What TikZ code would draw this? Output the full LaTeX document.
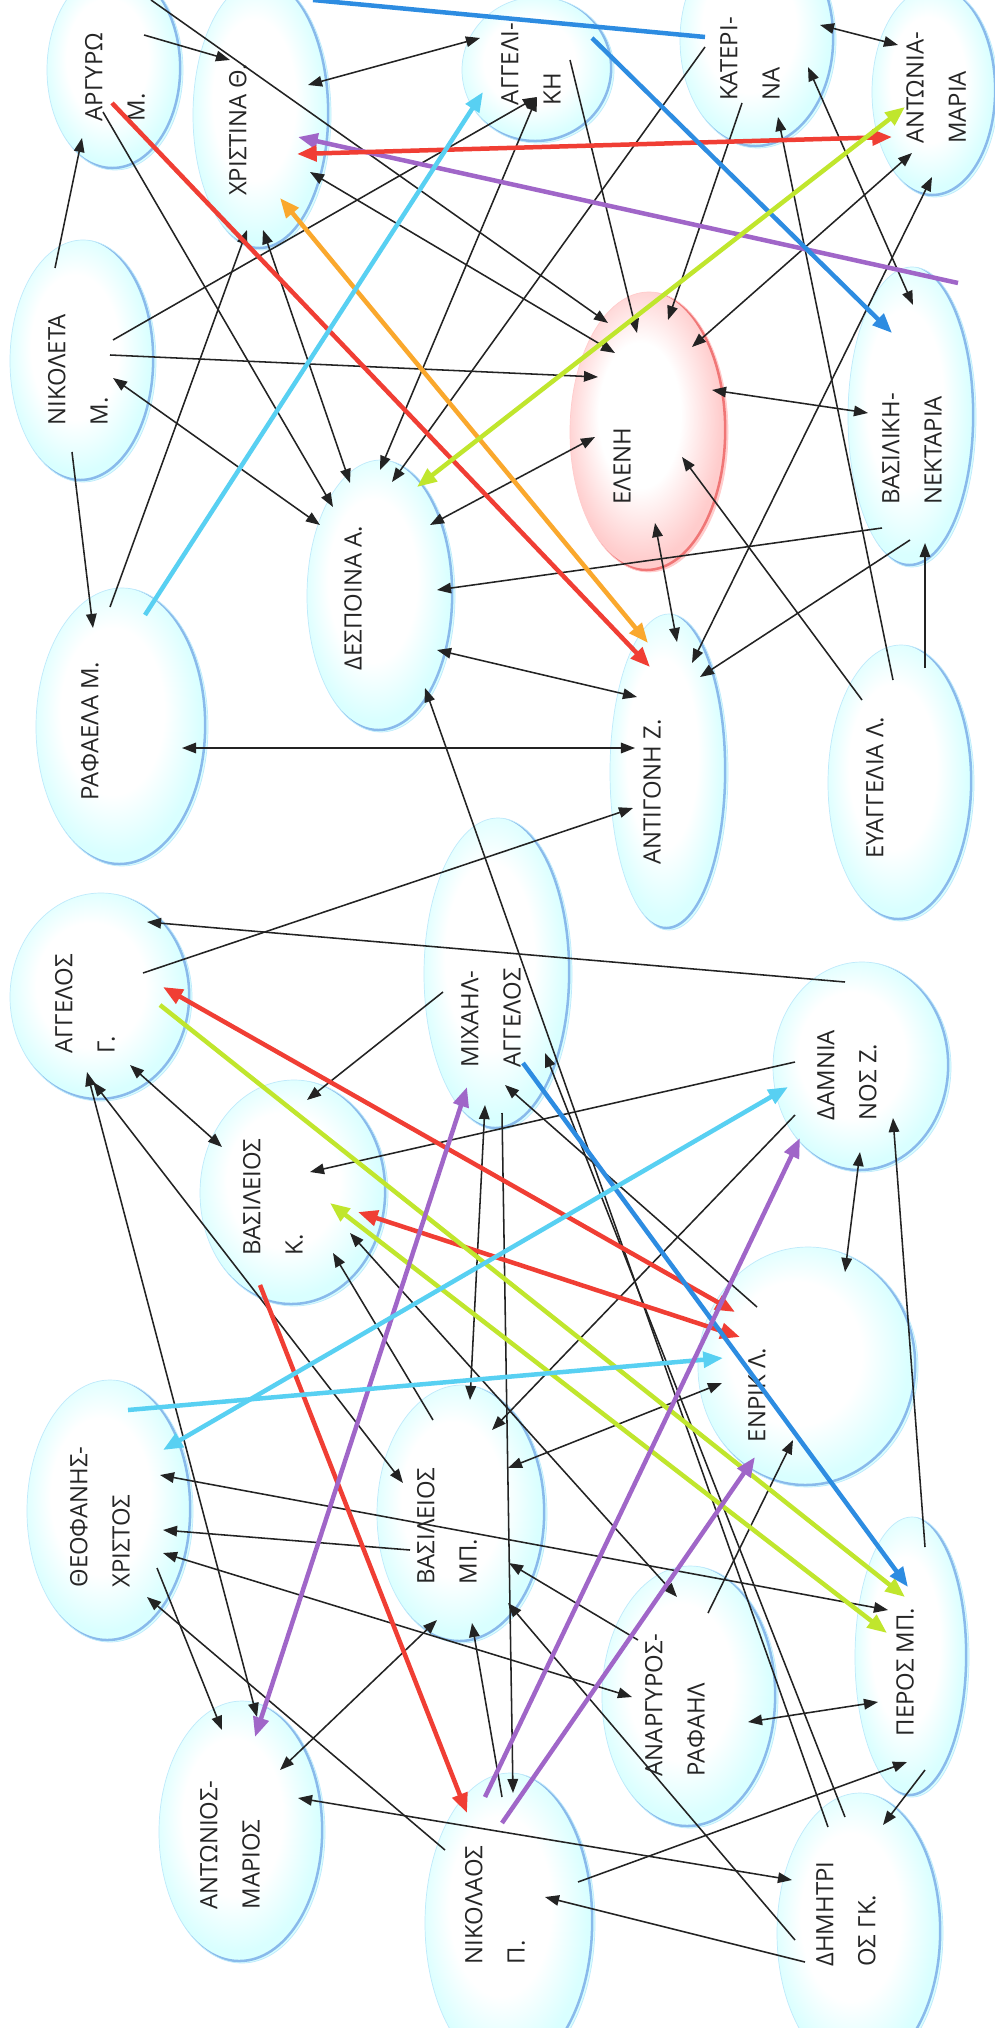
\documentclass[tikz,border=0pt]{standalone}
\usepackage{fontspec}
\setmainfont{Open Sans}
\usetikzlibrary{arrows.meta, shapes.geometric, calc}

\definecolor{lnblack}{RGB}{35,35,35}
\definecolor{lnred}{RGB}{240,62,52}
\definecolor{lnorange}{RGB}{250,168,45}
\definecolor{lngreen}{RGB}{192,230,45}
\definecolor{lncyan}{RGB}{88,208,242}
\definecolor{lnblue}{RGB}{45,140,225}
\definecolor{lnpurple}{RGB}{160,102,200}
\definecolor{rimblue}{RGB}{95,150,225}
\definecolor{rimred}{RGB}{235,90,90}

\pgfdeclareradialshading{bubshade}{\pgfpoint{-4bp}{4bp}}{color(0bp)=(white); color(15bp)=(white); color(25bp)=(cyan!15); color(50bp)=(cyan!15)}
\pgfdeclareradialshading{pinkshade}{\pgfpoint{-4bp}{4bp}}{color(0bp)=(white); color(13bp)=(white); color(25bp)=(red!20); color(50bp)=(red!20)}

\begin{document}
\begin{tikzpicture}[x=0.25mm, y=-0.25mm, >={Triangle[length=10pt, width=7.5pt]},
      bub/.style 2 args={ellipse, inner sep=0pt, minimum width=#1*0.5mm, minimum height=#2*0.5mm,
                 draw=cyan!25, line width=0.5pt, shading=bubshade,
                 path picture={\draw[rimblue, line width=1.8pt, opacity=0.65]
                   ([xshift=-2pt, yshift=1.4pt]path picture bounding box.center)
                   ellipse [x radius=#1*0.25mm, y radius=#2*0.25mm];}},
      pbub/.style 2 args={ellipse, inner sep=0pt, minimum width=#1*0.5mm, minimum height=#2*0.5mm,
                 draw=red!20, line width=0.5pt, shading=pinkshade,
                 path picture={\draw[rimred, line width=1.8pt, opacity=0.75]
                   ([xshift=-2pt, yshift=1.4pt]path picture bounding box.center)
                   ellipse [x radius=#1*0.25mm, y radius=#2*0.25mm];}},
      lbl/.style={rotate=90, align=left, inner sep=0pt, text=black!85,
                  font=\fontsize{17}{30}\selectfont},
      bk/.style={draw=lnblack, line width=1.1pt},
      thk/.style={line width=3.2pt, >={Triangle[length=14pt, width=11pt]}}]

    % ---- Page ----
    \useasboundingbox (0,0) rectangle (995,2028);
    \fill[white] (0,0) rectangle (995,2028);
    \clip (0,0) rectangle (995,2028);

    % ---- Bubbles: top half ----
    \node[bub={68}{100}]  (argyro)    at (115,70)   {};
    \node[bub={69}{135}]  (christina) at (262,115)  {};
    \node[bub={73}{121}]  (nikoleta)  at (83,361)   {};
    \node[bub={76}{73}]   (aggeliki)  at (538,70)   {};
    \node[bub={78}{108}]  (katerina)  at (758,40)   {};
    \node[bub={63}{105}]  (antonia)   at (935,92)   {};
    \node[pbub={79}{140}] (eleni)     at (649,432)  {};
    \node[bub={64}{150}]  (vasiliki)  at (912,417)  {};
    \node[bub={74}{136}]  (despoina)  at (381,596)  {};
    \node[bub={86}{139}]  (rafaela)   at (122,727)  {};
    \node[bub={59}{158}]  (antigoni)  at (669,772)  {};
    \node[bub={73}{138}]  (evaggelia) at (901,783)  {};

    % ---- Bubbles: bottom half ----
    \node[bub={91}{104}]  (aggelos)   at (101,997)  {};
    \node[bub={94}{113}]  (vasK)      at (294,1193) {};
    \node[bub={74}{156}]  (michail)   at (498,974)  {};
    \node[bub={89}{105}]  (damnianos) at (862,1067) {};
    \node[bub={110}{120}] (enrik)     at (808,1367) {};
    \node[bub={83}{131}]  (theofanis) at (110,1511) {};
    \node[bub={85}{129}]  (vasMP)     at (462,1514) {};
    \node[bub={88}{131}]  (anargyros) at (690,1697) {};
    \node[bub={57}{140}]  (peros)     at (912,1657) {};
    \node[bub={83}{140}]  (dimitrios) at (860,1933) {};
    \node[bub={85}{150}]  (nikolaos)  at (510,1923) {};
    \node[bub={83}{131}]  (antonios)  at (242,1832) {};

    % ---- Names ----
    \node[lbl] (argyro-t)    at (115,77)   {ΑΡΓΥΡΩ\\Μ.};
    \node[lbl] (christina-t) at (238,130)  {ΧΡΙΣΤΙΝΑ Θ.};
    \node[lbl] (nikoleta-t)  at (78,370)   {ΝΙΚΟΛΕΤΑ\\Μ.};
    \node[lbl] (aggeliki-t)  at (531,64)   {ΑΓΓΕΛΙ-\\ΚΗ};
    \node[lbl] (katerina-t)  at (750,59)   {ΚΑΤΕΡΙ-\\ΝΑ};
    \node[lbl] (antonia-t)   at (936,88)   {ΑΝΤΩΝΙΑ-\\ΜΑΡΙΑ};
    \node[lbl] (eleni-t)     at (622,466)  {ΕΛΕΝΗ};
    \node[lbl] (vasiliki-t)  at (912,449)  {ΒΑΣΙΛΙΚΗ-\\ΝΕΚΤΑΡΙΑ};
    \node[lbl] (despoina-t)  at (353,598)  {ΔΕΣΠΟΙΝΑ Α.};
    \node[lbl] (rafaela-t)   at (90,731)   {ΡΑΦΑΕΛΑ Μ.};
    \node[lbl] (antigoni-t)  at (652,792)  {ΑΝΤΙΓΟΝΗ Ζ.};
    \node[lbl] (evaggelia-t) at (875,788)  {ΕΥΑΓΓΕΛΙΑ Λ.};
    \node[lbl] (aggelos-t)   at (85,1004)  {ΑΓΓΕΛΟΣ\\Γ.};
    \node[lbl] (vasK-t)      at (273,1197) {ΒΑΣΙΛΕΙΟΣ\\Κ.};
    \node[lbl] (michail-t)   at (491,1018) {ΜΙΧΑΗΛ-\\ΑΓΓΕΛΟΣ};
    \node[lbl] (damnianos-t) at (847,1075) {ΔΑΜΝΙΑ\\ΝΟΣ Ζ.};
    \node[lbl] (enrik-t)     at (757,1395) {ΕΝΡΙΚ Λ.};
    \node[lbl] (theofanis-t) at (100,1517) {ΘΕΟΦΑΝΗΣ-\\ΧΡΙΣΤΟΣ};
    \node[lbl] (vasMP-t)     at (447,1526) {ΒΑΣΙΛΕΙΟΣ\\ΜΠ.};
    \node[lbl] (anargyros-t) at (675,1705) {ΑΝΑΡΓΥΡΟΣ-\\ΡΑΦΑΗΛ};
    \node[lbl] (peros-t)     at (905,1672) {ΠΕΡΟΣ ΜΠ.};
    \node[lbl] (dimitrios-t) at (846,1914) {ΔΗΜΗΤΡΙ\\ΟΣ ΓΚ.};
    \node[lbl] (nikolaos-t)  at (495,1905) {ΝΙΚΟΛΑΟΣ\\Π.};
    \node[lbl] (antonios-t)  at (230,1845) {ΑΝΤΩΝΙΟΣ-\\ΜΑΡΙΟΣ};

    % lines that come in over the top edge
    \coordinate (topA) at (151,0);
    \coordinate (topB) at (313,0);

    % ---- Black choices: top half ----
    \draw[bk,->]  (topA) -- ($(eleni)+(-41,-109)$);
    \draw[bk,->]  ($(argyro)+(29,-35)$) -- ($(christina)+(-32,-55)$);
    \draw[bk,<->] ($(christina)+(46,-30)$) -- ($(aggeliki)+(-58,-32)$);
    \draw[bk,<->] ($(christina)+(48,57)$) -- ($(eleni)+(-34,-79)$);
    \draw[bk,<->] ($(christina)+(1,115)$) -- ($(despoina)+(-31,-113)$);
    \draw[bk,->]  ($(rafaela)+(-12,-120)$) -- ($(christina)+(-15,115)$);
    \draw[bk,->]  ($(argyro)+(-12,42)$) -- ($(despoina)+(-48,-89)$);
    \draw[bk,->]  ($(nikoleta)+(30,-21)$) -- ($(aggeliki)+(-1,27)$);
    \draw[bk,->]  ($(nikoleta)+(27,-6)$) -- ($(eleni)+(-51,-55)$);
    \draw[bk,<->] ($(nikoleta)+(30,17)$) -- ($(despoina)+(-61,-71)$);
    \draw[bk,->]  ($(nikoleta)+(-28,-93)$) -- ($(argyro)+(-33,68)$);
    \draw[bk,->]  ($(nikoleta)+(-11,91)$) -- ($(rafaela)+(-29,-99)$);
    \draw[bk,<->] ($(despoina)+(-1,-126)$) -- ($(aggeliki)+(-1,27)$);
    \draw[bk,->]  ($(katerina)+(-53,7)$) -- ($(despoina)+(11,-114)$);
    \draw[bk,->]  ($(katerina)+(-16,63)$) -- ($(eleni)+(19,-112)$);
    \draw[bk,->]  ($(aggeliki)+(32,-10)$) -- ($(eleni)+(-12,-99)$);
    \draw[bk,<->] ($(katerina)+(62,-15)$) -- ($(antonia)+(-37,-47)$);
    \draw[bk,<->] ($(katerina)+(50,27)$) -- ($(vasiliki)+(1,-112)$);
    \draw[bk,->]  ($(evaggelia)+(-8,-103)$) -- ($(katerina)+(20,77)$);
    \draw[bk,<->] ($(eleni)+(43,-85)$) -- ($(antonia)+(-23,61)$);
    \draw[bk,<->] ($(antigoni)+(23,-109)$) -- ($(antonia)+(-3,85)$);
    \draw[bk,<->] ($(eleni)+(63,-42)$) -- ($(vasiliki)+(-44,-4)$);
    \draw[bk,->]  ($(evaggelia)+(-39,-83)$) -- ($(eleni)+(33,25)$);
    \draw[bk,<->] ($(eleni)+(-54,5)$) -- ($(despoina)+(49,-71)$);
    \draw[bk,->]  ($(vasiliki)+(-30,111)$) -- ($(despoina)+(56,-6)$);
    \draw[bk,<->] ($(despoina)+(56,54)$) -- ($(antigoni)+(-32,-75)$);
    \draw[bk,<->] ($(eleni)+(6,91)$) -- ($(antigoni)+(8,-130)$);
    \draw[bk,->]  ($(vasiliki)+(-2,123)$) -- ($(antigoni)+(31,-95)$);
    \draw[bk,->]  ($(evaggelia)+(24,-115)$) -- ($(vasiliki)+(13,126)$);
    \draw[bk,<->] ($(rafaela)+(60,21)$) -- ($(antigoni)+(-34,-24)$);

    % ---- Black choices: middle ----
    \draw[bk,->]  ($(dimitrios)+(-32,-106)$) -- ($(despoina)+(44,92)$);
    \draw[bk,->]  ($(dimitrios)+(-15,-116)$) -- ($(michail)+(47,79)$);
    \draw[bk,->]  ($(aggelos)+(42,-24)$) -- ($(antigoni)+(-36,36)$);
    \draw[bk,->]  ($(damnianos)+(-17,-85)$) -- ($(aggelos)+(46,-75)$);
    \draw[bk,<->] ($(antonios)+(15,-115)$) -- ($(aggelos)+(-14,75)$);
    \draw[bk,<->] ($(aggelos)+(-8,85)$) -- ($(vasMP)+(-59,-31)$);
    \draw[bk,<->] ($(aggelos)+(29,68)$) -- ($(vasK)+(-72,-46)$);
    \draw[bk,->]  ($(michail)+(-55,18)$) -- ($(vasK)+(13,-93)$);
    \draw[bk,->]  ($(damnianos)+(-67,-5)$) -- ($(vasK)+(16,-21)$);
    \draw[bk,<->] ($(michail)+(-13,131)$) -- ($(vasMP)+(8,-114)$);
    \draw[bk,->]  ($(michail)+(4,139)$) -- ($(nikolaos)+(3,-130)$);
    \draw[bk,->]  ($(enrik)+(-51,-60)$) -- ($(michail)+(7,111)$);
    \draw[bk,<->] ($(enrik)+(37,-95)$) -- ($(damnianos)+(-2,85)$);
    \draw[bk,->]  ($(damnianos)+(-67,48)$) -- ($(vasMP)+(30,-84)$);
    \draw[bk,<->] ($(enrik)+(-86,16)$) -- ($(vasMP)+(46,-46)$);
    \draw[bk,->]  ($(vasMP)+(-29,-94)$) -- ($(vasK)+(39,60)$);
    \draw[bk,<->] ($(anargyros)+(-13,-100)$) -- ($(vasK)+(56,40)$);

    % ---- Black choices: bottom half ----
    \draw[bk,->]  ($(anargyros)+(-52,-57)$) -- ($(vasMP)+(47,49)$);
    \draw[bk,->]  ($(dimitrios)+(-65,7)$) -- ($(vasMP)+(46,89)$);
    \draw[bk,->]  ($(nikolaos)+(-8,-126)$) -- ($(vasMP)+(10,109)$);
    \draw[bk,->]  ($(vasMP)+(-52,36)$) -- ($(theofanis)+(53,19)$);
    \draw[bk,<->] ($(theofanis)+(53,42)$) -- ($(anargyros)+(-58,0)$);
    \draw[bk,->]  ($(theofanis)+(47,57)$) -- ($(antonios)+(-20,-102)$);
    \draw[bk,->]  ($(nikolaos)+(-65,-73)$) -- ($(theofanis)+(37,86)$);
    \draw[bk,<->] ($(antonios)+(38,-62)$) -- ($(vasMP)+(-25,106)$);
    \draw[bk,<->] ($(antonios)+(56,-34)$) -- ($(dimitrios)+(-68,-53)$);
    \draw[bk,<->] ($(theofanis)+(50,-36)$) -- ($(peros)+(-24,-47)$);
    \draw[bk,->]  ($(anargyros)+(18,-84)$) -- ($(enrik)+(-15,73)$);
    \draw[bk,<->] ($(anargyros)+(58,25)$) -- ($(peros)+(-34,45)$);
    \draw[bk,->]  ($(nikolaos)+(68,-41)$) -- ($(peros)+(-5,105)$);
    \draw[bk,->]  ($(peros)+(13,113)$) -- ($(dimitrios)+(23,-108)$);
    \draw[bk,->]  ($(dimitrios)+(-55,29)$) -- ($(nikolaos)+(35,-26)$);
    \draw[bk,->]  ($(peros)+(13,-110)$) -- ($(damnianos)+(31,51)$);

    % ---- Coloured choices ----
    \draw[thk,lnpurple,->] ($(vasiliki)+(46,-134)$) -- ($(christina)+(36,22)$);
    \draw[thk,lnred,<->]   ($(christina)+(35,39)$) -- ($(antonia)+(-43,45)$);
    \draw[thk,lnorange,<->] ($(christina)+(18,83)$) -- ($(antigoni)+(-21,-129)$);
    \draw[thk,lnred,->]    ($(argyro)+(-3,33)$) -- ($(antigoni)+(-19,-105)$);
    \draw[thk,lncyan,->]   ($(rafaela)+(23,-112)$) -- ($(aggeliki)+(-55,22)$);
    \draw[thk,lnblue]      (topB) -- ($(katerina)+(-53,-3)$);
    \draw[thk,lnblue,->]   ($(aggeliki)+(54,-32)$) -- ($(vasiliki)+(-20,-84)$);
    \draw[thk,lngreen,<->] ($(despoina)+(36,-109)$) -- ($(antonia)+(-30,15)$);
    \draw[thk,lnred,<->]   ($(aggelos)+(62,-10)$) -- ($(enrik)+(-73,-55)$);
    \draw[thk,lnred,<->]   ($(vasK)+(64,19)$) -- ($(enrik)+(-68,-30)$);
    \draw[thk,lnred,->]    ($(vasK)+(-34,92)$) -- ($(nikolaos)+(-43,-110)$);
    \draw[thk,lngreen,<->] ($(vasK)+(36,10)$) -- ($(peros)+(-25,-24)$);
    \draw[thk,lngreen,->]  ($(aggelos)+(59,8)$) -- ($(peros)+(-7,-60)$);
    \draw[thk,lnpurple,<->] ($(michail)+(-31,113)$) -- ($(antonios)+(13,-95)$);
    \draw[thk,lnblue,->]   ($(michail)+(25,89)$) -- ($(peros)+(-4,-70)$);
    \draw[thk,lncyan,<->]  ($(theofanis)+(53,-61)$) -- ($(damnianos)+(-74,20)$);
    \draw[thk,lncyan,->]   ($(theofanis)+(18,-101)$) -- ($(enrik)+(-85,-9)$);
    \draw[thk,lnpurple,->] ($(nikolaos)+(-25,-126)$) -- ($(damnianos)+(-62,71)$);
    \draw[thk,lnpurple,->] ($(nikolaos)+(-8,-100)$) -- ($(enrik)+(-53,90)$);

\end{tikzpicture}
\end{document}
